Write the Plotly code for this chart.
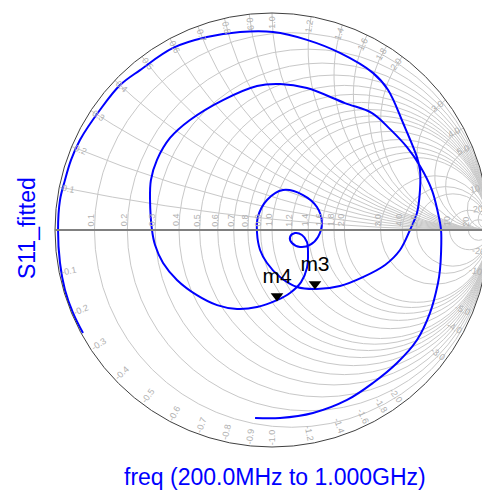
import math
import numpy as np
import plotly.graph_objects as go

gamma_re = [-0.871, -0.917, -0.954, -0.977, -0.986, -0.977, -0.954, -0.926, -0.885, -0.793,
            -0.700, -0.608, -0.456, -0.300, -0.147, 0.005, 0.161, 0.313, 0.465, 0.535,
            0.604, 0.668, 0.682, 0.682, 0.668, 0.636, 0.590, 0.521, 0.419, 0.313,
            0.207, 0.115, 0.037, -0.023, -0.055, -0.069, -0.065, -0.023, 0.051, 0.143,
            0.207, 0.230, 0.212, 0.175, 0.129, 0.092, 0.083, 0.106, 0.138, 0.161,
            0.166, 0.161, 0.134, 0.083, 0.023, -0.069, -0.161, -0.253, -0.346, -0.438,
            -0.502, -0.539, -0.553, -0.562, -0.558, -0.530, -0.470, -0.378, -0.226, -0.069,
            0.037, 0.161, 0.336, 0.461, 0.544, 0.622, 0.682, 0.737, 0.765, 0.779,
            0.779, 0.774, 0.765, 0.728, 0.668, 0.576, 0.465, 0.346, 0.189, 0.037,
            -0.078]
gamma_im = [-0.475, -0.382, -0.276, -0.152, 0.000, 0.138, 0.230, 0.323, 0.415, 0.553,
            0.668, 0.737, 0.839, 0.889, 0.912, 0.912, 0.876, 0.816, 0.724, 0.645,
            0.493, 0.336, 0.276, 0.184, 0.078, 0.000, -0.092, -0.161, -0.217, -0.258,
            -0.272, -0.263, -0.217, -0.152, -0.092, -0.014, 0.060, 0.138, 0.184, 0.161,
            0.106, 0.032, -0.032, -0.069, -0.078, -0.060, -0.032, -0.014, -0.023, -0.055,
            -0.106, -0.175, -0.240, -0.290, -0.323, -0.355, -0.364, -0.346, -0.300, -0.230,
            -0.152, -0.069, 0.000, 0.138, 0.230, 0.323, 0.424, 0.507, 0.599, 0.664,
            0.673, 0.654, 0.585, 0.539, 0.465, 0.382, 0.295, 0.184, 0.078, 0.000,
            -0.106, -0.184, -0.244, -0.382, -0.507, -0.613, -0.705, -0.783, -0.843, -0.866,
            -0.866]

# markers (reflection coefficient at the marker symbols)
marker_names = ["m3", "m4"]
marker_re = [0.198, 0.023]
marker_im = [-0.249, -0.304]

# grid values (resistance circles and reactance arcs)
grid_vals = [0.1, 0.2, 0.3, 0.4, 0.5, 0.6, 0.7, 0.8, 0.9, 1.0,
             1.2, 1.4, 1.6, 1.8, 2.0, 3.0, 4.0, 5.0, 10, 20]

y_title = "S11_fitted"
x_title = "freq (200.0MHz to 1.000GHz)"

FONT = "Liberation Sans, Arial, sans-serif"
GRID = "#c8c8c8"
LABEL = "#b0b0b0"
PLOT_PX = 434.0  # size of the square plot area in pixels


def fmt(v):
    return f"{v:.1f}" if abs(v) < 10 else f"{int(v)}"


g = np.array(gamma_re) + 1j * np.array(gamma_im)
z = (1 + g) / (1 - g)
gm = np.array(marker_re) + 1j * np.array(marker_im)
zm = (1 + gm) / (1 - gm)

fig = go.Figure()
fig.add_trace(go.Scattersmith(
    real=z.real, imag=z.imag, mode="lines",
    line=dict(color="#0000ff", width=2, shape="spline", smoothing=1),
    showlegend=False, hoverinfo="skip"))
fig.add_trace(go.Scattersmith(
    real=zm.real, imag=zm.imag, mode="markers+text",
    text=marker_names, textposition="top center",
    textfont=dict(family=FONT, size=21, color="black"),
    marker=dict(symbol="triangle-down", size=11, color="black"),
    showlegend=False, hoverinfo="skip"))

annotations = []
# reactance labels written inside the outer circle, along the radius
for v in grid_vals:
    for s in (1, -1):
        x = s * v
        phi = math.pi - 2 * math.atan(x)
        rho = 0.955
        px = 0.5 + 0.5 * rho * math.cos(phi)
        py = 0.5 + 0.5 * rho * math.sin(phi)
        a = math.degrees(math.atan2(math.sin(phi), math.cos(phi)))
        if a > 90:
            a -= 180
        elif a < -90:
            a += 180
        annotations.append(dict(
            x=px, y=py, xref="paper", yref="paper", text=fmt(x), showarrow=False,
            textangle=-a, font=dict(family=FONT, size=9, color=LABEL),
            xanchor="center", yanchor="middle"))

# resistance labels just above the real axis
for r in grid_vals:
    gx = (r - 1) / (r + 1)
    annotations.append(dict(
        x=0.5 + 0.5 * gx - 3 / PLOT_PX, y=0.5 + 1.5 / PLOT_PX,
        xref="paper", yref="paper", text=fmt(r), showarrow=False,
        textangle=-90, font=dict(family=FONT, size=9, color=LABEL),
        xanchor="center", yanchor="bottom"))

annotations.append(dict(
    x=-0.064, y=0.505, xref="paper", yref="paper", text=y_title, showarrow=False,
    textangle=-90, font=dict(family=FONT, size=23, color="#0000ff"),
    xanchor="center", yanchor="middle"))
annotations.append(dict(
    x=0.506, y=-0.069, xref="paper", yref="paper", text=x_title, showarrow=False,
    font=dict(family=FONT, size=23, color="#0000ff"),
    xanchor="center", yanchor="middle"))

fig.update_layout(
    width=482, height=483,
    margin=dict(l=47, r=1, t=5, b=44, autoexpand=False),
    paper_bgcolor="white", plot_bgcolor="white",
    font=dict(family=FONT),
    smith=dict(
        domain=dict(x=[0, 1], y=[0, 1]),
        bgcolor="white",
        realaxis=dict(
            tickvals=grid_vals, ticks="", showticklabels=False,
            showgrid=True, gridcolor=GRID, gridwidth=1,
            showline=True, linecolor="#808080", linewidth=2),
        imaginaryaxis=dict(
            tickvals=grid_vals, ticks="", showticklabels=False,
            showgrid=True, gridcolor=GRID, gridwidth=1,
            showline=True, linecolor="#404040", linewidth=1),
    ),
    annotations=annotations,
)

fig.write_html("out.html")
